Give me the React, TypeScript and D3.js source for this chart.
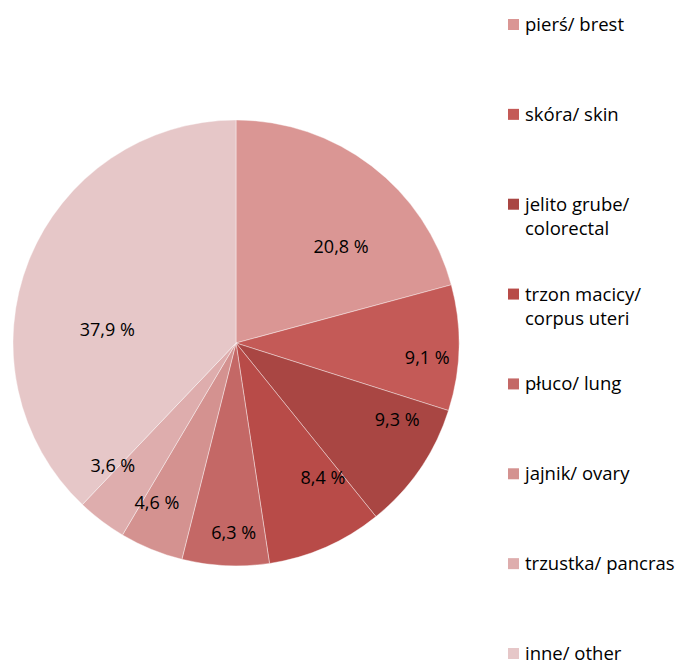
import React from "react";
import * as d3 from "d3";

const categories = [
  ["pierś/ brest"],
  ["skóra/ skin"],
  ["jelito grube/", "colorectal"],
  ["trzon macicy/", "corpus uteri"],
  ["płuco/ lung"],
  ["jajnik/ ovary"],
  ["trzustka/ pancras"],
  ["inne/ other"],
];
const values = [20.8, 9.1, 9.3, 8.4, 6.3, 4.6, 3.6, 37.9];
const valueLabels = ["20,8 %", "9,1 %", "9,3 %", "8,4 %", "6,3 %", "4,6 %", "3,6 %", "37,9 %"];

const colors = ["#DA9694", "#C45A57", "#A94643", "#B84B48", "#C46866", "#D49290", "#DEADAD", "#E6C7C8"];
// label placement tweaks (angle nudge in degrees, radius fraction)
const labelAngleNudge = [10, 3, -9, -9, -2, 4, 8, -16];
const labelRadiusFrac = [0.64, 0.86, 0.8, 0.72, 0.85, 0.8, 0.78, 0.58];

export default function App() {
  const W = 678, H = 664;
  const cx = 236, cy = 343, r = 223;
  const pie = d3.pie<number>().sort(null).value((d) => d)(values);
  const arc = d3.arc<d3.PieArcDatum<number>>().innerRadius(0).outerRadius(r);
  const font = "'Open Sans', Lato, sans-serif";
  const legendY = d3.scaleLinear().domain([0, 7]).range([31, 660]);
  return (
    <svg width={W} height={H} style={{ position: "absolute", left: 0, top: 0, background: "#fff" }}>
      <g transform={`translate(${cx},${cy})`}>
        {pie.map((p, i) => (
          <path key={i} d={arc(p) || ""} fill={colors[i]} stroke="#ffffff" strokeOpacity={0.5} strokeWidth={0.8} />
        ))}
        {pie.map((p, i) => {
          const a = (p.startAngle + p.endAngle) / 2 + (labelAngleNudge[i] * Math.PI) / 180;
          const rr = r * labelRadiusFrac[i];
          const x = Math.sin(a) * rr;
          const y = -Math.cos(a) * rr;
          return (
            <text key={i} x={x} y={y} dy="0.35em" textAnchor="middle" fontFamily={font} fontSize={18} fill="#000">
              {valueLabels[i]}
            </text>
          );
        })}
      </g>
      <g>
        {categories.map((lines, i) => {
          const y = legendY(i);
          return (
            <g key={i}>
              <rect x={508} y={y - 12} width={11} height={11} fill={colors[i]} />
              {lines.map((t, j) => (
                <text key={j} x={525} y={y + j * 24} fontFamily={font} fontSize={18.5} fill="#000">
                  {t}
                </text>
              ))}
            </g>
          );
        })}
      </g>
    </svg>
  );
}
